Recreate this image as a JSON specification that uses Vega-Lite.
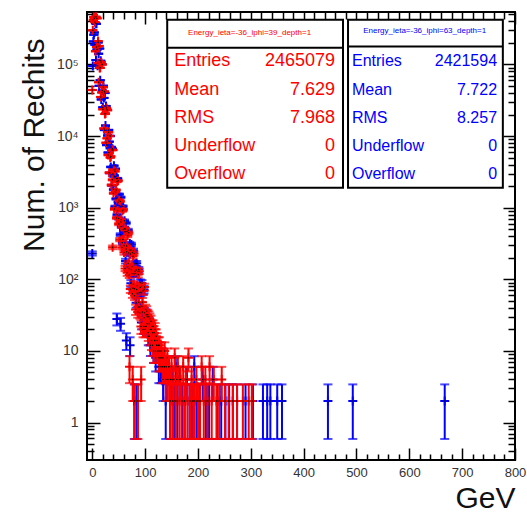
{
  "$schema": "https://vega.github.io/schema/vega-lite/v6.json",
  "width": 428,
  "height": 448,
  "autosize": {"type": "none"},
  "padding": {"left": 87, "top": 12, "right": 12, "bottom": 56},
  "background": "white",
  "config": {
    "view": {"stroke": "black", "strokeWidth": 2},
    "font": "Liberation Sans",
    "axis": {"grid": false, "domain": false, "tickColor": "black", "tickWidth": 1.5, "labelFlush": false, "labelOverlap": false, "labelBound": false}
  },
  "datasets": {
    "h": [
      {"s":"b","x":0,"n":230,"e":15.2},{"s":"b","x":1,"n":95000,"e":308},{"s":"b","x":2,"n":210000,"e":458},{"s":"b","x":3,"n":260000,"e":510},{"s":"b","x":4,"n":280000,"e":529},
      {"s":"b","x":5,"n":189000,"e":435},{"s":"b","x":6,"n":375000,"e":612},{"s":"b","x":7,"n":115000,"e":339},{"s":"b","x":8,"n":369000,"e":607},{"s":"b","x":9,"n":162000,"e":402},
      {"s":"b","x":10,"n":96000,"e":310},{"s":"b","x":11,"n":203000,"e":451},{"s":"b","x":12,"n":141000,"e":375},{"s":"b","x":13,"n":50400,"e":224},{"s":"b","x":14,"n":166600,"e":408},
      {"s":"b","x":15,"n":60200,"e":245},{"s":"b","x":16,"n":112500,"e":335},{"s":"b","x":17,"n":32500,"e":180},{"s":"b","x":18,"n":100800,"e":317},{"s":"b","x":19,"n":43200,"e":208},
      {"s":"b","x":20,"n":25200,"e":159},{"s":"b","x":21,"n":50400,"e":224},{"s":"b","x":22,"n":34100,"e":185},{"s":"b","x":23,"n":12150,"e":110},{"s":"b","x":24,"n":39950,"e":200},
      {"s":"b","x":25,"n":14000,"e":118},{"s":"b","x":26,"n":26250,"e":162},{"s":"b","x":27,"n":7500,"e":87},{"s":"b","x":28,"n":23400,"e":153},{"s":"b","x":29,"n":10170,"e":101},
      {"s":"b","x":30,"n":5880,"e":77},{"s":"b","x":31,"n":12180,"e":110},{"s":"b","x":32,"n":8360,"e":91},{"s":"b","x":33,"n":3060,"e":55},{"s":"b","x":34,"n":10030,"e":100},
      {"s":"b","x":35,"n":3710,"e":61},{"s":"b","x":36,"n":7050,"e":84},{"s":"b","x":37,"n":2050,"e":45},{"s":"b","x":38,"n":6660,"e":82},{"s":"b","x":39,"n":2970,"e":54.5},
      {"s":"b","x":40,"n":1800,"e":42.4},{"s":"b","x":41,"n":3850,"e":62},{"s":"b","x":42,"n":2750,"e":52.4},{"s":"b","x":43,"n":1035,"e":32.2},{"s":"b","x":44,"n":3485,"e":59},
      {"s":"b","x":45,"n":1330,"e":36.5},{"s":"b","x":46,"n":2550,"e":50.5},{"s":"b","x":47,"n":800,"e":28.3},{"s":"b","x":48,"n":2556,"e":50.6},{"s":"b","x":49,"n":1197,"e":34.6},
      {"s":"b","x":50,"n":708,"e":26.6},{"s":"b","x":51,"n":1540,"e":39.2},{"s":"b","x":52,"n":1078,"e":32.8},{"s":"b","x":53,"n":419,"e":20.5},{"s":"b","x":54,"n":1394,"e":37.3},
      {"s":"b","x":55,"n":546,"e":23.4},{"s":"b","x":56,"n":1035,"e":32.2},{"s":"b","x":57,"n":325,"e":18},{"s":"b","x":58,"n":1044,"e":32.3},{"s":"b","x":59,"n":495,"e":22.2},
      {"s":"b","x":60,"n":294,"e":17.1},{"s":"b","x":61,"n":658,"e":25.7},{"s":"b","x":62,"n":462,"e":21.5},{"s":"b","x":63,"n":180,"e":13.4},{"s":"b","x":64,"n":612,"e":24.7},
      {"s":"b","x":65,"n":242,"e":15.6},{"s":"b","x":66,"n":465,"e":21.6},{"s":"b","x":67,"n":150,"e":12.2},{"s":"b","x":68,"n":486,"e":22},{"s":"b","x":69,"n":234,"e":15.3},
      {"s":"b","x":70,"n":141,"e":11.9},{"s":"b","x":71,"n":315,"e":17.7},{"s":"b","x":72,"n":226,"e":15},{"s":"b","x":73,"n":88,"e":9.4},{"s":"b","x":74,"n":306,"e":17.5},
      {"s":"b","x":75,"n":120,"e":11},{"s":"b","x":76,"n":237,"e":15.4},{"s":"b","x":77,"n":75,"e":8.7},{"s":"b","x":78,"n":252,"e":15.9},{"s":"b","x":79,"n":119,"e":10.9},
      {"s":"b","x":80,"n":74,"e":8.6},{"s":"b","x":81,"n":165,"e":12.8},{"s":"b","x":82,"n":121,"e":11},{"s":"b","x":83,"n":47,"e":6.9},{"s":"b","x":84,"n":167,"e":12.9},
      {"s":"b","x":85,"n":64,"e":8},{"s":"b","x":86,"n":129,"e":11.4},{"s":"b","x":87,"n":41,"e":6.4},{"s":"b","x":88,"n":137,"e":11.7},{"s":"b","x":89,"n":65,"e":8.1},
      {"s":"b","x":90,"n":41,"e":6.4},{"s":"b","x":91,"n":90,"e":9.5},{"s":"b","x":92,"n":66,"e":8.1},{"s":"b","x":93,"n":25,"e":5},{"s":"b","x":94,"n":88,"e":9.4},
      {"s":"b","x":95,"n":35,"e":5.9},{"s":"b","x":96,"n":69,"e":8.3},{"s":"b","x":97,"n":22,"e":4.7},{"s":"b","x":98,"n":72,"e":8.5},{"s":"b","x":99,"n":34,"e":5.8},
      {"s":"b","x":100,"n":22,"e":4.7},{"s":"b","x":102,"n":32,"e":5.7},{"s":"b","x":104,"n":30,"e":5.5},{"s":"b","x":106,"n":16,"e":4},{"s":"b","x":108,"n":24,"e":4.9},{"s":"b","x":110,"n":12,"e":3.5},{"s":"b","x":112,"n":20,"e":4.5},{"s":"b","x":114,"n":18,"e":4.2},{"s":"b","x":116,"n":10,"e":3.2},{"s":"b","x":118,"n":14,"e":3.7},
      {"s":"b","x":120,"n":8,"e":2.83},{"s":"b","x":122,"n":12,"e":3.5},{"s":"b","x":124,"n":10,"e":3.2},{"s":"b","x":126,"n":6,"e":2.45},{"s":"b","x":128,"n":8,"e":2.83},
      {"s":"b","x":46.5,"n":28,"e":5.3},{"s":"b","x":53.5,"n":24,"e":4.9},{"s":"b","x":64.5,"n":14,"e":3.7},{"s":"b","x":71.5,"n":12,"e":3.5},{"s":"b","x":79.5,"n":2,"e":1.41},{"s":"b","x":84.5,"n":2,"e":1.41},
      {"s":"b","x":130,"n":6,"e":2.45},{"s":"b","x":132,"n":8,"e":2.83},{"s":"b","x":134,"n":4,"e":2},{"s":"b","x":137,"n":6,"e":2.45},{"s":"b","x":139,"n":2,"e":1.41},{"s":"b","x":142,"n":4,"e":2},{"s":"b","x":145,"n":6,"e":2.45},{"s":"b","x":148,"n":2,"e":1.41},{"s":"b","x":151,"n":4,"e":2},{"s":"b","x":155,"n":2,"e":1.41},
      {"s":"b","x":158,"n":6,"e":2.45},{"s":"b","x":161,"n":2,"e":1.41},{"s":"b","x":165,"n":4,"e":2},{"s":"b","x":170,"n":2,"e":1.41},{"s":"b","x":175,"n":2,"e":1.41},{"s":"b","x":179,"n":4,"e":2},{"s":"b","x":184,"n":2,"e":1.41},{"s":"b","x":189,"n":2,"e":1.41},{"s":"b","x":193,"n":6,"e":2.45},{"s":"b","x":198,"n":2,"e":1.41},
      {"s":"b","x":203,"n":2,"e":1.41},{"s":"b","x":209,"n":4,"e":2},{"s":"b","x":215,"n":2,"e":1.41},{"s":"b","x":221,"n":2,"e":1.41},{"s":"b","x":228,"n":4,"e":2},{"s":"b","x":236,"n":2,"e":1.41},{"s":"b","x":244,"n":2,"e":1.41},{"s":"b","x":252,"n":2,"e":1.41},{"s":"b","x":259,"n":2,"e":1.41},{"s":"b","x":266,"n":2,"e":1.41},
      {"s":"b","x":274,"n":2,"e":1.41},{"s":"b","x":290,"n":2,"e":1.41},{"s":"b","x":304,"n":2,"e":1.41},{"s":"b","x":323,"n":2,"e":1.41},{"s":"b","x":331,"n":2,"e":1.41},{"s":"b","x":337,"n":2,"e":1.41},{"s":"b","x":350,"n":2,"e":1.41},{"s":"b","x":359,"n":2,"e":1.41},{"s":"b","x":446,"n":2,"e":1.41},{"s":"b","x":493,"n":2,"e":1.41},{"s":"b","x":667,"n":2,"e":1.41},

      {"s":"r","x":0,"n":44000,"e":210},{"s":"r","x":1,"n":300000,"e":548},{"s":"r","x":2,"n":420000,"e":648},{"s":"r","x":3,"n":460000,"e":678},{"s":"r","x":4,"n":440000,"e":663},
      {"s":"r","x":5,"n":390000,"e":624},{"s":"r","x":6,"n":153000,"e":391},{"s":"r","x":7,"n":464000,"e":681},{"s":"r","x":8,"n":175000,"e":418},{"s":"r","x":9,"n":440000,"e":663},
      {"s":"r","x":10,"n":104500,"e":323},{"s":"r","x":11,"n":212000,"e":460},{"s":"r","x":12,"n":56400,"e":237},{"s":"r","x":13,"n":181500,"e":426},{"s":"r","x":14,"n":89250,"e":299},
      {"s":"r","x":15,"n":90000,"e":300},{"s":"r","x":16,"n":35100,"e":187},{"s":"r","x":17,"n":107200,"e":327},{"s":"r","x":18,"n":40600,"e":201},{"s":"r","x":19,"n":100000,"e":316},
      {"s":"r","x":20,"n":23650,"e":154},{"s":"r","x":21,"n":48100,"e":219},{"s":"r","x":22,"n":12800,"e":113},{"s":"r","x":23,"n":42000,"e":205},{"s":"r","x":24,"n":20400,"e":143},
      {"s":"r","x":25,"n":20700,"e":144},{"s":"r","x":26,"n":8055,"e":90},{"s":"r","x":27,"n":24640,"e":157},{"s":"r","x":28,"n":9310,"e":96},{"s":"r","x":29,"n":23000,"e":152},
      {"s":"r","x":30,"n":5445,"e":74},{"s":"r","x":31,"n":11310,"e":106},{"s":"r","x":32,"n":3080,"e":55},{"s":"r","x":33,"n":10050,"e":100},{"s":"r","x":34,"n":5015,"e":71},
      {"s":"r","x":35,"n":5200,"e":72},{"s":"r","x":36,"n":2070,"e":45.5},{"s":"r","x":37,"n":6400,"e":80},{"s":"r","x":38,"n":2450,"e":49.5},{"s":"r","x":39,"n":6400,"e":80},
      {"s":"r","x":40,"n":1595,"e":40},{"s":"r","x":41,"n":3380,"e":58},{"s":"r","x":42,"n":960,"e":31},{"s":"r","x":43,"n":3225,"e":57},{"s":"r","x":44,"n":1658,"e":40.7},
      {"s":"r","x":45,"n":1770,"e":42},{"s":"r","x":46,"n":720,"e":26.8},{"s":"r","x":47,"n":2320,"e":48.2},{"s":"r","x":48,"n":917,"e":30.3},{"s":"r","x":49,"n":2380,"e":48.8},
      {"s":"r","x":50,"n":594,"e":24.4},{"s":"r","x":51,"n":1274,"e":35.7},{"s":"r","x":52,"n":358,"e":18.9},{"s":"r","x":53,"n":1226,"e":35},{"s":"r","x":54,"n":633,"e":25.2},
      {"s":"r","x":55,"n":680,"e":26.1},{"s":"r","x":56,"n":279,"e":16.7},{"s":"r","x":57,"n":904,"e":30.1},{"s":"r","x":58,"n":360,"e":19},{"s":"r","x":59,"n":940,"e":30.7},
      {"s":"r","x":60,"n":236,"e":15.4},{"s":"r","x":61,"n":508,"e":22.5},{"s":"r","x":62,"n":142,"e":11.9},{"s":"r","x":63,"n":500,"e":22.4},{"s":"r","x":64,"n":265,"e":16.3},
      {"s":"r","x":65,"n":292,"e":17.1},{"s":"r","x":66,"n":123,"e":11.1},{"s":"r","x":67,"n":408,"e":20.2},{"s":"r","x":68,"n":167,"e":12.9},{"s":"r","x":69,"n":446,"e":21.1},
      {"s":"r","x":70,"n":115,"e":10.7},{"s":"r","x":71,"n":254,"e":15.9},{"s":"r","x":72,"n":73,"e":8.5},{"s":"r","x":73,"n":256,"e":16},{"s":"r","x":74,"n":136,"e":11.7},
      {"s":"r","x":75,"n":150,"e":12.2},{"s":"r","x":76,"n":63,"e":7.9},{"s":"r","x":77,"n":210,"e":14.5},{"s":"r","x":78,"n":85,"e":9.2},{"s":"r","x":79,"n":230,"e":15.2},
      {"s":"r","x":80,"n":59,"e":7.7},{"s":"r","x":81,"n":130,"e":11.4},{"s":"r","x":82,"n":38,"e":6.2},{"s":"r","x":83,"n":135,"e":11.6},{"s":"r","x":84,"n":72,"e":8.5},
      {"s":"r","x":85,"n":81,"e":9},{"s":"r","x":86,"n":35,"e":5.9},{"s":"r","x":87,"n":117,"e":10.8},{"s":"r","x":88,"n":48,"e":6.9},{"s":"r","x":89,"n":130,"e":11.4},
      {"s":"r","x":90,"n":34,"e":5.8},{"s":"r","x":91,"n":77,"e":8.8},{"s":"r","x":92,"n":22,"e":4.7},{"s":"r","x":93,"n":80,"e":8.9},{"s":"r","x":94,"n":42,"e":6.5},
      {"s":"r","x":95,"n":48,"e":6.9},{"s":"r","x":96,"n":20,"e":4.5},{"s":"r","x":97,"n":69,"e":8.3},{"s":"r","x":98,"n":29,"e":5.4},{"s":"r","x":99,"n":78,"e":8.8},
      {"s":"r","x":100,"n":20,"e":4.5},{"s":"r","x":101,"n":38,"e":6.2},{"s":"r","x":102,"n":22,"e":4.7},{"s":"r","x":103,"n":36,"e":6},{"s":"r","x":104,"n":24,"e":4.9},
      {"s":"r","x":105,"n":32,"e":5.7},{"s":"r","x":106,"n":18,"e":4.2},{"s":"r","x":107,"n":30,"e":5.5},{"s":"r","x":108,"n":16,"e":4},{"s":"r","x":109,"n":28,"e":5.3},
      {"s":"r","x":110,"n":20,"e":4.5},{"s":"r","x":111,"n":26,"e":5.1},{"s":"r","x":112,"n":14,"e":3.7},{"s":"r","x":113,"n":22,"e":4.7},{"s":"r","x":114,"n":12,"e":3.5},
      {"s":"r","x":115,"n":22,"e":4.7},{"s":"r","x":116,"n":10,"e":3.2},{"s":"r","x":117,"n":18,"e":4.2},{"s":"r","x":118,"n":14,"e":3.7},{"s":"r","x":119,"n":20,"e":4.5},
      {"s":"r","x":120,"n":10,"e":3.2},{"s":"r","x":38.5,"n":280,"e":16.7},{"s":"r","x":70.5,"n":6,"e":2.45},{"s":"r","x":76.5,"n":4,"e":2},{"s":"r","x":80.5,"n":2,"e":1.41},{"s":"r","x":86.5,"n":2,"e":1.41},{"s":"r","x":92.5,"n":4,"e":2},
      {"s":"r","x":121,"n":16,"e":4},{"s":"r","x":122,"n":12,"e":3.5},{"s":"r","x":123,"n":14,"e":3.7},{"s":"r","x":124,"n":10,"e":3.2},{"s":"r","x":125,"n":12,"e":3.5},{"s":"r","x":126,"n":8,"e":2.83},{"s":"r","x":127,"n":12,"e":3.5},{"s":"r","x":128,"n":10,"e":3.2},{"s":"r","x":130,"n":8,"e":2.83},{"s":"r","x":131,"n":10,"e":3.2},
      {"s":"r","x":133,"n":6,"e":2.45},{"s":"r","x":134,"n":8,"e":2.83},{"s":"r","x":136,"n":6,"e":2.45},{"s":"r","x":137,"n":10,"e":3.2},{"s":"r","x":139,"n":4,"e":2},{"s":"r","x":140,"n":6,"e":2.45},{"s":"r","x":142,"n":8,"e":2.83},{"s":"r","x":143,"n":4,"e":2},{"s":"r","x":145,"n":6,"e":2.45},{"s":"r","x":147,"n":2,"e":1.41},
      {"s":"r","x":148,"n":4,"e":2},{"s":"r","x":150,"n":6,"e":2.45},{"s":"r","x":152,"n":2,"e":1.41},{"s":"r","x":154,"n":4,"e":2},{"s":"r","x":156,"n":8,"e":2.83},{"s":"r","x":158,"n":2,"e":1.41},{"s":"r","x":160,"n":4,"e":2},{"s":"r","x":162,"n":6,"e":2.45},{"s":"r","x":165,"n":2,"e":1.41},{"s":"r","x":167,"n":4,"e":2},
      {"s":"r","x":169,"n":2,"e":1.41},{"s":"r","x":172,"n":6,"e":2.45},{"s":"r","x":174,"n":2,"e":1.41},{"s":"r","x":177,"n":4,"e":2},{"s":"r","x":180,"n":2,"e":1.41},{"s":"r","x":182,"n":8,"e":2.83},{"s":"r","x":185,"n":2,"e":1.41},{"s":"r","x":188,"n":4,"e":2},{"s":"r","x":191,"n":2,"e":1.41},{"s":"r","x":194,"n":2,"e":1.41},
      {"s":"r","x":197,"n":4,"e":2},{"s":"r","x":200,"n":2,"e":1.41},{"s":"r","x":204,"n":2,"e":1.41},{"s":"r","x":207,"n":6,"e":2.45},{"s":"r","x":211,"n":2,"e":1.41},{"s":"r","x":214,"n":4,"e":2},{"s":"r","x":218,"n":2,"e":1.41},{"s":"r","x":222,"n":6,"e":2.45},{"s":"r","x":226,"n":2,"e":1.41},{"s":"r","x":230,"n":4,"e":2},
      {"s":"r","x":235,"n":2,"e":1.41},{"s":"r","x":240,"n":2,"e":1.41},{"s":"r","x":245,"n":4,"e":2},{"s":"r","x":251,"n":2,"e":1.41},{"s":"r","x":258,"n":2,"e":1.41},{"s":"r","x":266,"n":2,"e":1.41},{"s":"r","x":274,"n":2,"e":1.41},{"s":"r","x":285,"n":2,"e":1.41},{"s":"r","x":296,"n":2,"e":1.41},{"s":"r","x":302,"n":2,"e":1.41}
    ],
    "stats": [
      {"box":"red","row":0,"label":"Energy_ieta=-36_iphi=39_depth=1","value":""},
      {"box":"red","row":1,"label":"Entries","value":"2465079"},
      {"box":"red","row":2,"label":"Mean","value":"7.629"},
      {"box":"red","row":3,"label":"RMS","value":"7.968"},
      {"box":"red","row":4,"label":"Underflow","value":"0"},
      {"box":"red","row":5,"label":"Overflow","value":"0"},
      {"box":"blue","row":0,"label":"Energy_ieta=-36_iphi=63_depth=1","value":""},
      {"box":"blue","row":1,"label":"Entries","value":"2421594"},
      {"box":"blue","row":2,"label":"Mean","value":"7.722"},
      {"box":"blue","row":3,"label":"RMS","value":"8.257"},
      {"box":"blue","row":4,"label":"Underflow","value":"0"},
      {"box":"blue","row":5,"label":"Overflow","value":"0"}
    ]
  },
  "layer": [
    {
      "data": {"name": "h"},
      "layer": [
        {
          "transform": [{"filter": "datum.s == 'b'"}],
          "mark": {"type": "errorbar", "color": "#0000ff", "ticks": {"size": 9, "thickness": 2}, "rule": {"strokeWidth": 2}},
          "encoding": {
            "x": {"field": "x", "type": "quantitative", "scale": {"domain": [-10, 800], "nice": false, "zero": false}, "axis": null},
            "y": {"field": "n", "type": "quantitative", "scale": {"type": "log", "domain": [0.3, 540000], "nice": false}, "axis": null},
            "yError": {"field": "e"}
          }
        },
        {
          "transform": [{"filter": "datum.s == 'b'"}],
          "mark": {"type": "point", "shape": "M-1,0L1,0M0,-1L0,1", "filled": false, "strokeWidth": 2, "size": 81, "color": "#0000ff", "opacity": 1},
          "encoding": {
            "x": {"field": "x", "type": "quantitative", "scale": {"domain": [-10, 800], "nice": false, "zero": false},
              "axis": {"orient": "bottom", "values": [0,100,200,300,400,500,600,700,800], "tickSize": -12, "labelFontSize": 13, "labelColor": "#333333", "labelPadding": 18, "title": "GeV", "titleFontSize": 30, "titleFontWeight": "normal", "titleColor": "#111111", "titleAnchor": "end", "titlePadding": 4}},
            "y": {"field": "n", "type": "quantitative", "scale": {"type": "log", "domain": [0.3, 540000], "nice": false},
              "axis": {"orient": "left", "values": [1,10,100,1000,10000,100000], "tickSize": -13, "labelFontSize": 14, "labelColor": "#333333", "labelPadding": 22,
                "labelExpr": "datum.value >= 100000 ? '10⁵' : datum.value >= 10000 ? '10⁴' : datum.value >= 1000 ? '10³' : datum.value >= 100 ? '10²' : datum.value >= 10 ? '10' : '1'",
                "title": "Num. of Rechits", "titleFontSize": 30, "titleFontWeight": "normal", "titleColor": "#111111", "titleAnchor": "end", "titleX": -38, "titleY": 26, "titleBaseline": "bottom"}}
          }
        },
        {
          "transform": [{"filter": "datum.s == 'r'"}],
          "mark": {"type": "errorbar", "color": "#ff0000", "ticks": {"size": 9, "thickness": 2}, "rule": {"strokeWidth": 2}},
          "encoding": {
            "x": {"field": "x", "type": "quantitative", "scale": {"domain": [-10, 800], "nice": false, "zero": false}, "axis": null},
            "y": {"field": "n", "type": "quantitative", "scale": {"type": "log", "domain": [0.3, 540000], "nice": false}, "axis": null},
            "yError": {"field": "e"}
          }
        },
        {
          "transform": [{"filter": "datum.s == 'r'"}],
          "mark": {"type": "point", "shape": "M-1,0L1,0M0,-1L0,1", "filled": false, "strokeWidth": 2, "size": 81, "color": "#ff0000", "opacity": 1},
          "encoding": {
            "x": {"field": "x", "type": "quantitative", "scale": {"domain": [-10, 800], "nice": false, "zero": false},
              "axis": {"orient": "bottom", "values": [20,40,60,80,120,140,160,180,220,240,260,280,320,340,360,380,420,440,460,480,520,540,560,580,620,640,660,680,720,740,760,780], "tickSize": -6, "labels": false, "title": null}},
            "y": {"field": "n", "type": "quantitative", "scale": {"type": "log", "domain": [0.3, 540000], "nice": false},
              "axis": {"orient": "left", "values": [0.4,0.5,0.6,0.7,0.8,0.9,2,3,4,5,6,7,8,9,20,30,40,50,60,70,80,90,200,300,400,500,600,700,800,900,2000,3000,4000,5000,6000,7000,8000,9000,20000,30000,40000,50000,60000,70000,80000,90000,200000,300000,400000,500000], "tickSize": -7, "labels": false, "title": null}}
          }
        },
        {
          "transform": [{"filter": "datum.s == 'b'"}],
          "mark": {"type": "point", "filled": true, "size": 2, "color": "black", "opacity": 1},
          "encoding": {
            "x": {"field": "x", "type": "quantitative", "scale": {"domain": [-10, 800], "nice": false, "zero": false},
              "axis": {"orient": "top", "values": [0,100,200,300,400,500,600,700,800], "tickSize": -12, "labels": false, "title": null}},
            "y": {"field": "n", "type": "quantitative", "scale": {"type": "log", "domain": [0.3, 540000], "nice": false},
              "axis": {"orient": "right", "values": [1,10,100,1000,10000,100000], "tickSize": -12, "labels": false, "title": null}}
          }
        },
        {
          "transform": [{"filter": "datum.s == 'r'"}],
          "mark": {"type": "point", "filled": true, "size": 2, "color": "black", "opacity": 1},
          "encoding": {
            "x": {"field": "x", "type": "quantitative", "scale": {"domain": [-10, 800], "nice": false, "zero": false},
              "axis": {"orient": "top", "values": [20,40,60,80,120,140,160,180,220,240,260,280,320,340,360,380,420,440,460,480,520,540,560,580,620,640,660,680,720,740,760,780], "tickSize": -7, "labels": false, "title": null}},
            "y": {"field": "n", "type": "quantitative", "scale": {"type": "log", "domain": [0.3, 540000], "nice": false},
              "axis": {"orient": "right", "values": [0.4,0.5,0.6,0.7,0.8,0.9,2,3,4,5,6,7,8,9,20,30,40,50,60,70,80,90,200,300,400,500,600,700,800,900,2000,3000,4000,5000,6000,7000,8000,9000,20000,30000,40000,50000,60000,70000,80000,90000,200000,300000,400000,500000], "tickSize": -7, "labels": false, "title": null}}
          }
        }
      ],
      "resolve": {"axis": {"x": "independent", "y": "independent"}}
    },
    {
      "data": {"name": "stats"},
      "layer": [
        {
          "transform": [{"filter": "datum.box == 'red' && datum.row == 0"}],
          "mark": {"type": "rect", "fill": "white", "stroke": "black", "strokeWidth": 2},
          "encoding": {
            "x": {"datum": 141.8, "type": "quantitative", "scale": {"domain": [-10, 800], "nice": false, "zero": false}, "axis": null},
            "x2": {"datum": 474.5},
            "y": {"datum": -0.47, "type": "quantitative", "scale": {"domain": [-0.742, 15.09], "reverse": true, "nice": false, "zero": false}, "axis": null},
            "y2": {"datum": 5.47}
          }
        },
        {
          "transform": [{"filter": "datum.box == 'red' && datum.row == 0"}],
          "mark": {"type": "rule", "stroke": "black", "strokeWidth": 2},
          "encoding": {
            "x": {"datum": 141.8, "type": "quantitative", "axis": null},
            "x2": {"datum": 474.5},
            "y": {"datum": 0.52, "type": "quantitative", "axis": null}
          }
        },
        {
          "transform": [{"filter": "datum.box == 'blue' && datum.row == 0"}],
          "mark": {"type": "rect", "fill": "white", "stroke": "black", "strokeWidth": 2},
          "encoding": {
            "x": {"datum": 484, "type": "quantitative", "axis": null},
            "x2": {"datum": 777},
            "y": {"datum": -0.47, "type": "quantitative", "axis": null},
            "y2": {"datum": 5.47}
          }
        },
        {
          "transform": [{"filter": "datum.box == 'blue' && datum.row == 0"}],
          "mark": {"type": "rule", "stroke": "black", "strokeWidth": 2},
          "encoding": {
            "x": {"datum": 484, "type": "quantitative", "axis": null},
            "x2": {"datum": 777},
            "y": {"datum": 0.48, "type": "quantitative", "axis": null}
          }
        },
        {
          "transform": [{"filter": "datum.box == 'red' && datum.row == 0"}],
          "mark": {"type": "text", "align": "center", "baseline": "middle", "fontSize": 8, "color": "#ff0000"},
          "encoding": {
            "x": {"datum": 297.7, "type": "quantitative", "axis": null},
            "y": {"field": "row", "type": "quantitative", "axis": null},
            "text": {"field": "label"}
          }
        },
        {
          "transform": [{"filter": "datum.box == 'red' && datum.row > 0"}],
          "mark": {"type": "text", "align": "left", "baseline": "middle", "fontSize": 18, "color": "#ff0000"},
          "encoding": {
            "x": {"datum": 155, "type": "quantitative", "axis": null},
            "y": {"field": "row", "type": "quantitative", "axis": null},
            "text": {"field": "label"}
          }
        },
        {
          "transform": [{"filter": "datum.box == 'red' && datum.row > 0"}],
          "mark": {"type": "text", "align": "right", "baseline": "middle", "fontSize": 18, "color": "#ff0000"},
          "encoding": {
            "x": {"datum": 459.5, "type": "quantitative", "axis": null},
            "y": {"field": "row", "type": "quantitative", "axis": null},
            "text": {"field": "value"}
          }
        },
        {
          "transform": [{"filter": "datum.box == 'blue' && datum.row == 0"}],
          "mark": {"type": "text", "align": "center", "baseline": "middle", "fontSize": 8, "color": "#0000ff", "dy": -2},
          "encoding": {
            "x": {"datum": 629, "type": "quantitative", "axis": null},
            "y": {"field": "row", "type": "quantitative", "axis": null},
            "text": {"field": "label"}
          }
        },
        {
          "transform": [{"filter": "datum.box == 'blue' && datum.row > 0"}],
          "mark": {"type": "text", "align": "left", "baseline": "middle", "fontSize": 16, "color": "#0000ff"},
          "encoding": {
            "x": {"datum": 491.5, "type": "quantitative", "axis": null},
            "y": {"field": "row", "type": "quantitative", "axis": null},
            "text": {"field": "label"}
          }
        },
        {
          "transform": [{"filter": "datum.box == 'blue' && datum.row > 0"}],
          "mark": {"type": "text", "align": "right", "baseline": "middle", "fontSize": 16, "color": "#0000ff"},
          "encoding": {
            "x": {"datum": 766, "type": "quantitative", "axis": null},
            "y": {"field": "row", "type": "quantitative", "axis": null},
            "text": {"field": "value"}
          }
        }
      ]
    }
  ],
  "resolve": {"scale": {"y": "independent"}, "axis": {"x": "independent", "y": "independent"}}
}
